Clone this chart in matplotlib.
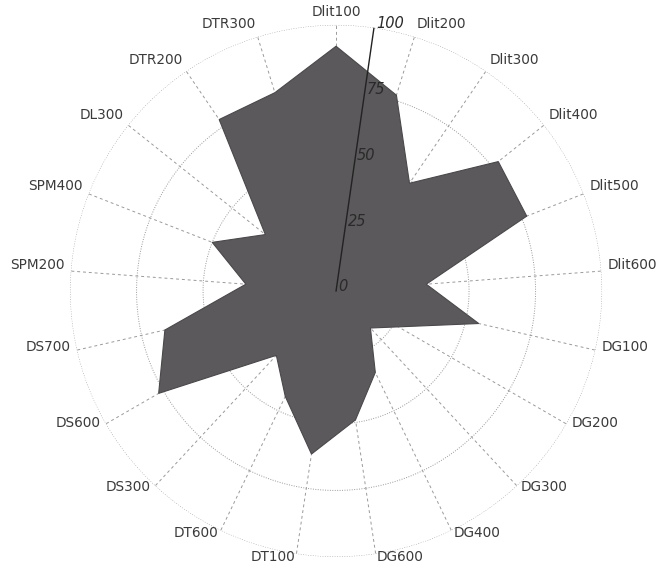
import matplotlib.pyplot as plt
import numpy as np

categories = ["Dlit100", "Dlit200", "Dlit300", "Dlit400", "Dlit500", "Dlit600",
              "DG100", "DG200", "DG300", "DG400", "DG600", "DT100", "DT600",
              "DS300", "DS600", "DS700", "SPM200", "SPM400", "DL300", "DTR200",
              "DTR300"]
values = [92, 77, 49, 78, 77, 34, 55, 27, 19, 34, 49, 62, 44, 33, 77, 66,
          34, 50, 34, 78, 78]
r_ticks = [0, 25, 50, 75, 100]
r_labels = ["0", "25", "50", "75", "100"]
r_axis_angle = 8.2  # degrees clockwise from top

n = len(categories)
theta = np.linspace(0, 2 * np.pi, n, endpoint=False)

fig = plt.figure(figsize=(6.57, 5.67), dpi=100)
ax = fig.add_axes([0.1066, 0.0177, 0.8098, 0.9383], projection="polar")
ax.set_theta_zero_location("N")
ax.set_theta_direction(-1)
ax.set_ylim(0, 100)

ax.fill(theta, values, color="#5b595b", edgecolor="#4a484a", lw=0.8, zorder=2)

# grid
ax.grid(False)
ax.spines["polar"].set_visible(False)
ring = np.linspace(0, 2 * np.pi, 400)
for r in r_ticks[1:]:
    ax.plot(ring, np.full_like(ring, r), color="#9a9a9a", lw=0.7,
            ls=(0, (1, 1.5)), zorder=1)
for t in theta:
    ax.plot([t, t], [0, 100], color="#9a9a9a", lw=0.7, ls=(0, (3, 3)),
            zorder=1)

ax.set_xticks([])
ax.set_yticks([])

# category labels just outside the outer ring
for t, lab in zip(theta, categories):
    s, c = np.sin(t), np.cos(t)
    if abs(s) < 0.05:
        ha = "center"
    elif s > 0:
        ha = "left"
    else:
        ha = "right"
    ax.annotate(lab, xy=(t, 100), xytext=(6 * s, 8 * c + 5),
                textcoords="offset pixels", ha=ha, va="center",
                fontsize=9.8, color="#3a3a3a", annotation_clip=False)

# radial axis line and labels
ra = np.deg2rad(r_axis_angle)
ax.plot([ra, ra], [0, 100], color="#222222", lw=1.0, zorder=3)
for r, lab in zip(r_ticks, r_labels):
    ax.annotate(lab, xy=(ra, r), xytext=(2, 4), textcoords="offset pixels",
                fontsize=10.5, style="italic", color="#2a2a2a",
                ha="left", va="center", zorder=4, annotation_clip=False)

fig.savefig("out.png", dpi=100)
